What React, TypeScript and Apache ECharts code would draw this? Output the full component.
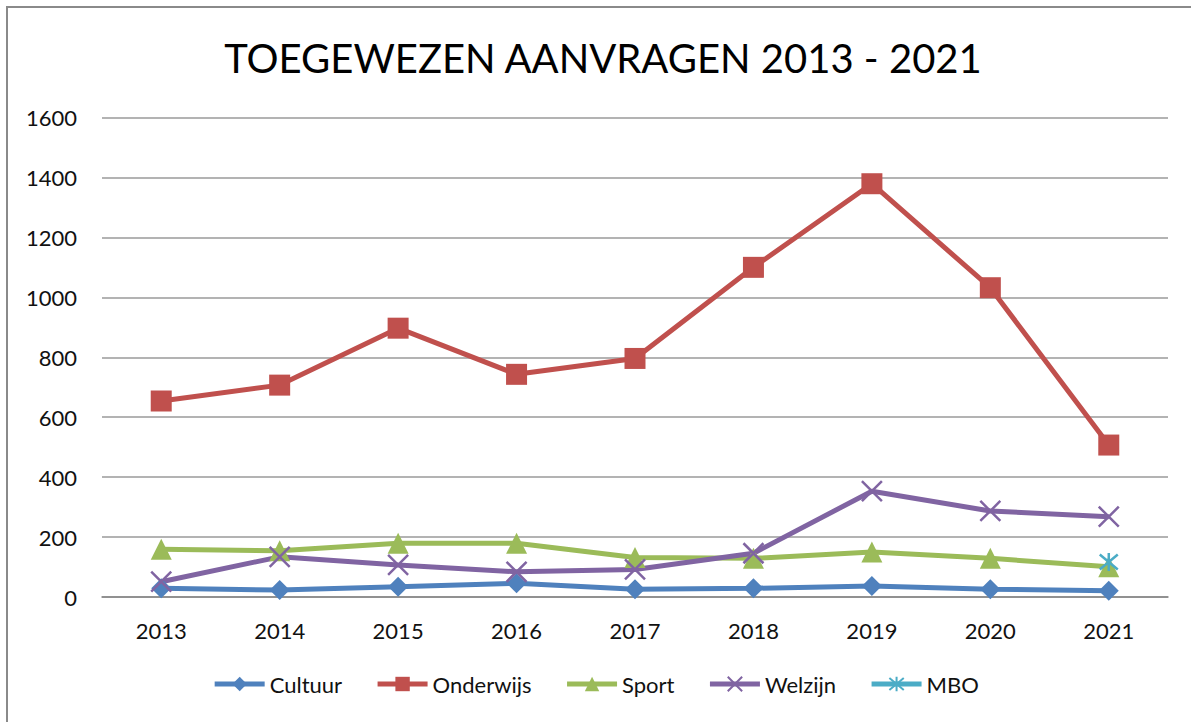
import React, { useEffect, useRef } from "react";
import * as echarts from "echarts";

const years = ["2013", "2014", "2015", "2016", "2017", "2018", "2019", "2020", "2021"];
const cultuur = [29, 23, 34, 46, 26, 29, 37, 26, 21];
const onderwijs = [654, 707, 897, 743, 796, 1100, 1379, 1032, 507];
const sport = [159, 154, 179, 179, 132, 129, 150, 129, 101];
const welzijn = [51, 134, 107, 84, 92, 146, 353, 287, 268];
const mbo: (number | string)[] = ["-", "-", "-", "-", "-", "-", "-", "-", 117];

const titleText = "TOEGEWEZEN AANVRAGEN 2013 - 2021";
const FONT = "Lato";

const X_PATH = "path://M0,0 L10,10 M10,0 L0,10";
const STAR_PATH = "path://M0,0 L10,10 M10,0 L0,10 M5,-1 L5,11";

export default function App() {
  const ref = useRef<HTMLDivElement>(null);
  useEffect(() => {
    if (!ref.current) return;
    const chart = echarts.init(ref.current, undefined, { renderer: "svg" });
    const mk = (name: string, data: any[], color: string, symbol: string, size: number, stroke = false) => ({
      name,
      type: "line",
      data,
      symbol,
      symbolSize: size,
      showSymbol: true,
      connectNulls: false,
      lineStyle: { color, width: 5 },
      itemStyle: stroke
        ? { color: "rgba(0,0,0,0)", borderColor: color, borderWidth: 2.5 }
        : { color, borderColor: color, borderWidth: 0 },
      emphasis: { disabled: true },
    });
    chart.setOption({
      animation: false,
      backgroundColor: "#fff",
      graphic: [
        {
          type: "rect",
          shape: { x: 7, y: 7, width: 1400, height: 900 },
          style: { fill: "none", stroke: "#8a8a8a", lineWidth: 2 },
          silent: true,
        },
        {
          type: "text",
          x: 603,
          y: 58,
          style: {
            text: titleText,
            font: `40px ${FONT}`,
            fill: "#000",
            textAlign: "center",
            textVerticalAlign: "middle",
          },
        },
      ],
      grid: { left: 102, right: 23, top: 117.5, bottom: 125, containLabel: false },
      xAxis: {
        type: "category",
        data: years,
        boundaryGap: true,
        axisLine: { lineStyle: { color: "#868686", width: 1.5 } },
        axisTick: { show: false },
        axisLabel: { fontFamily: FONT, fontSize: 22, color: "#111", margin: 22 },
      },
      yAxis: {
        type: "value",
        min: 0,
        max: 1600,
        interval: 200,
        axisLine: { show: false },
        axisTick: { show: false },
        splitLine: { lineStyle: { color: "#9a9a9a", width: 1.5 } },
        axisLabel: {
          fontFamily: FONT,
          fontSize: 22,
          color: "#111",
          margin: 25,
          formatter: (v: number) => String(v),
        },
      },
      legend: {
        bottom: 22,
        left: "center",
        itemWidth: 50,
        itemHeight: 18,
        itemGap: 33,
        lineStyle: { width: 5 },
        textStyle: { fontFamily: FONT, fontSize: 22, color: "#111" },
        data: ["Cultuur", "Onderwijs", "Sport", "Welzijn", "MBO"],
      },
      series: [
        mk("Cultuur", cultuur, "#4F81BD", "diamond", 20),
        mk("Onderwijs", onderwijs, "#C0504D", "rect", 21),
        mk("Sport", sport, "#9BBB59", "triangle", 21),
        mk("Welzijn", welzijn, "#8064A2", X_PATH, 20, true),
        mk("MBO", mbo, "#4BACC6", STAR_PATH, 18, true),
      ],
    });
    return () => chart.dispose();
  }, []);
  return (
    <div
      ref={ref}
      style={{ position: "absolute", left: 0, top: 0, width: 1191, height: 722 }}
    />
  );
}
